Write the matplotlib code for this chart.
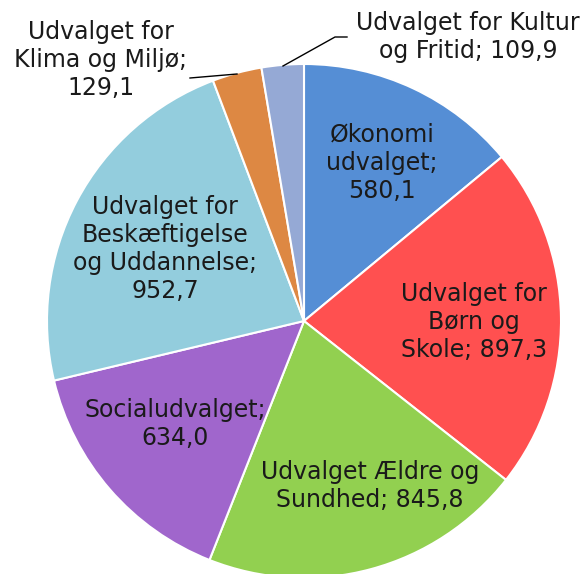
import matplotlib.pyplot as plt

# data
labels = ["Økonomi\nudvalget;\n580,1", "Udvalget for\nBørn og\nSkole; 897,3",
          "Udvalget Ældre og\nSundhed; 845,8", "Socialudvalget;\n634,0",
          "Udvalget for\nBeskæftigelse\nog Uddannelse;\n952,7",
          "Udvalget for\nKlima og Miljø;\n129,1", "Udvalget for Kultur\nog Fritid; 109,9"]
values = [580.1, 897.3, 845.8, 634.0, 952.7, 129.1, 109.9]
colors = ['#558ED5', '#FF5050', '#92D050', '#A066CC', '#93CDDD', '#DD8843', '#95A9D5']

# label centres in pixels (from top-left)
label_pos = [(382, 163), (474, 322), (370, 486), (175, 424), (165, 249), (101, 60), (468, 37)]

fig = plt.figure(figsize=(5.87, 5.74), dpi=100)
ax = fig.add_axes([0, 0, 1, 1])

ax.pie(values, colors=colors, startangle=90, counterclock=False,
       center=(304, 574 - 321), radius=257,
       wedgeprops=dict(edgecolor='white', linewidth=1.5), frame=True)
ax.set_xlim(0, 587)
ax.set_ylim(0, 574)
ax.set_aspect('equal')
ax.axis('off')

for lab, (x, y) in zip(labels, label_pos):
    ax.text(x, 574 - y, lab, ha='center', va='center', fontsize=17,
            color='#1a1a1a', linespacing=1.22)

# leader lines
ax.plot([237, 190], [574 - 74, 574 - 78], color='black', lw=1)
ax.plot([283, 335, 347], [574 - 66, 574 - 37, 574 - 37], color='black', lw=1)

plt.savefig("out.png", dpi=100)
